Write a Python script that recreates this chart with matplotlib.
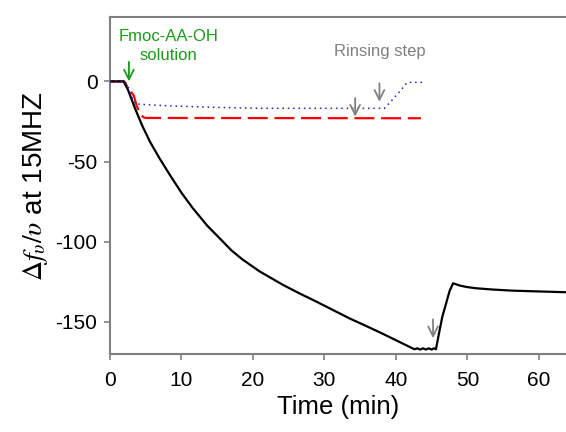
import matplotlib
matplotlib.use("Agg")
import matplotlib.pyplot as plt

plt.rcParams['font.family'] = ['Liberation Sans', 'DejaVu Sans']
plt.rcParams['mathtext.fontset'] = 'stix'
plt.rcParams['axes.unicode_minus'] = False

# Black: total frequency shift
t_black = [0, 1.9, 2.5, 3.5, 4.5, 5.6, 7.0, 8.4, 10.0, 11.6, 13.6, 15.8, 17.0, 18.5, 20.9, 24.2,
           26.5, 28.9, 31.2, 33.5, 35.9, 38.2, 40.4, 42.6, 43.0, 43.4, 43.8, 44.2, 44.6, 45.0,
           45.3, 45.6, 46.0, 46.5, 47.0, 47.5, 48.0, 49.0, 50.0, 51.2, 53.5, 56.3, 60.0, 63.8]
y_black = [0, 0, -5, -16.8, -27.5, -37.7, -48.5, -58.5, -69.5, -79.2, -90.0, -100.0, -105.5, -111.0,
           -118.5, -127.0, -132.3, -137.5, -142.7, -147.9, -152.8, -157.6, -162.4, -167.2, -166.6,
           -167.4, -166.6, -167.4, -166.6, -167.4, -166.6, -167.2, -158.0, -146.8, -139.0, -131.0,
           -126.0, -127.5, -128.4, -129.1, -129.9, -130.6, -131.1, -131.6]

# Red dashed
t_red = [0, 2.0, 2.3, 2.8, 3.35, 3.7, 4.3, 4.8, 5.1, 43.5]
y_red = [0, 0, -2.3, -5.5, -9.0, -14.8, -21.0, -22.6, -22.8, -23.0]

# Blue dotted
t_blue = [0, 2.1, 2.6, 3.0, 3.5, 5.0, 8.0, 12.0, 16.0, 21.0, 30.0, 38.4, 39.5, 40.6, 41.6, 43.9]
y_blue = [0, 0, -4.0, -9.0, -14.0, -14.5, -15.2, -15.8, -16.3, -16.8, -16.8, -16.8, -11.5, -6.0, -0.6, -0.6]

x_ticks = [0, 10, 20, 30, 40, 50, 60]
y_ticks = [0, -50, -100, -150]

fig = plt.figure(figsize=(5.66, 4.32), dpi=100)
ax = fig.add_axes([0.1943, 0.180, 0.8057, 0.781])

ax.plot(t_black, y_black, color='black', lw=1.6, zorder=3)
ax.plot(t_red, y_red, color='#ff0000', lw=1.6, dashes=(9, 3), zorder=2)
ax.plot(t_blue, y_blue, color='#2020d0', lw=1.1, ls=(0, (1, 2.5)), zorder=4)

ax.set_xlim(0, 63.8)
ax.set_ylim(-170.3, 40.3)
ax.set_xticks(x_ticks)
ax.set_yticks(y_ticks)
ax.tick_params(axis='both', direction='out', length=4, width=1.2, color='#808080',
               labelsize=15)
ax.tick_params(axis='y', pad=5)
ax.tick_params(axis='x', pad=8)
for s in ['left', 'bottom', 'top']:
    ax.spines[s].set_color('#808080')
    ax.spines[s].set_linewidth(1.5)
ax.spines['right'].set_visible(False)

ax.set_xlabel('Time (min)', fontsize=18.5, labelpad=4)
ax.set_ylabel(r'$\Delta f_{\upsilon}/\upsilon$' + ' at 15MHZ', fontsize=20, labelpad=4)

green = '#1a9a1a'
gray = '#808080'
ax.text(8.14, 28.3, 'Fmoc-AA-OH', color=green, fontsize=12, ha='center', va='center')
ax.text(8.14, 16.4, 'solution', color=green, fontsize=12, ha='center', va='center')
ax.text(37.7, 18.5, 'Rinsing step', color=gray, fontsize=12, ha='center', va='center')

def arrow(x, y0, y1, c):
    ax.annotate('', xy=(x, y1), xytext=(x, y0),
                arrowprops=dict(arrowstyle='->,head_length=0.7,head_width=0.35', color=c, lw=1.3,
                                shrinkA=0, shrinkB=0),
                zorder=5)

arrow(2.65, 12.2, 0.0, green)
arrow(34.3, -10.4, -22.0, gray)
arrow(37.7, -1.2, -12.7, gray)
arrow(45.2, -148.5, -160.3, gray)

fig.savefig('out.png', dpi=100)
